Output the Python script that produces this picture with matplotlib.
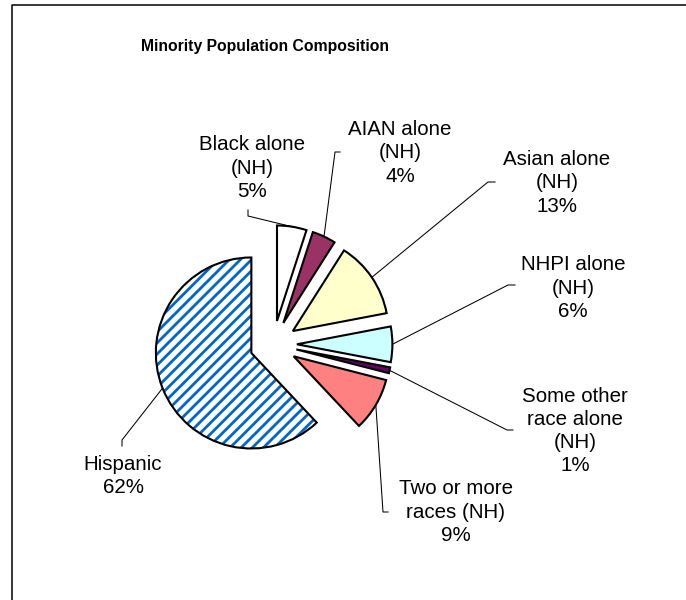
import numpy as np
import matplotlib.pyplot as plt
from matplotlib.patches import Wedge

# Minority population shares (percent), clockwise from 12 o'clock
groups = ['Black alone\n(NH)', 'AIAN alone\n(NH)', 'Asian alone\n(NH)',
          'NHPI alone\n(NH)', 'Some other\nrace alone\n(NH)',
          'Two or more\nraces (NH)', 'Hispanic']
shares = [5, 4, 13, 6, 1, 9, 62]
colors = ['#FFFFFF', '#993366', '#FFFFCC', '#CCFFFF', '#660066', '#FF8080', '#FFFFFF']

W, H = 686, 600
plt.rcParams['font.family'] = ['Liberation Sans', 'DejaVu Sans']
plt.rcParams['hatch.linewidth'] = 2.0

fig = plt.figure(figsize=(W / 100, H / 100), dpi=100)
ax = fig.add_axes([0, 0, 1, 1])

# axes in pixel units, y up; pie explode is an absolute offset here
radius = 95.5
wedges, _ = ax.pie(shares, colors=colors, startangle=90, counterclock=False,
                   explode=[23.6] * len(shares), center=(273.3, H - 344.3),
                   radius=radius, wedgeprops=dict(edgecolor='black', linewidth=1.5))
ax.set_xlim(0, W)
ax.set_ylim(0, H)
ax.set_aspect('equal')
ax.axis('off')

# Hispanic slice: blue diagonal stripes, then a black outline on top
hisp = wedges[-1]
hisp.set_hatch('///')
hisp.set_edgecolor('#0066CC')
hisp.set_linewidth(0)
ax.add_patch(Wedge(hisp.center, hisp.r, hisp.theta1, hisp.theta2,
                   fill=False, edgecolor='black', linewidth=1.5))

# label block centres and leader elbows (pixel coords, y down)
label_pos = [(252, 168), (400, 153), (557, 183), (573, 288),
             (575, 431), (456, 512), (123, 476)]
elbows = [[(248, 210), (248, 216)], [(340, 152), (335, 152)],
          [(495, 182), (488, 182)], [(515, 285), (508, 285)],
          [(513, 430), (507, 430)], [(388, 512), (383, 512)],
          [(122, 446), (122, 440)]]

for w, name, share, (lx, ly), elb in zip(wedges, groups, shares, label_pos, elbows):
    ax.text(lx, H - ly, f'{name}\n{share}%', ha='center', va='center',
            fontsize=14.8, linespacing=1.28, color='black')
    mid = np.deg2rad((w.theta1 + w.theta2) / 2)
    ex = w.center[0] + w.r * np.cos(mid)
    ey = w.center[1] + w.r * np.sin(mid)
    xs = [p[0] for p in elb] + [ex]
    ys = [H - p[1] for p in elb] + [ey]
    ax.plot(xs, ys, color='black', linewidth=0.75)

ax.text(265, H - 47, 'Minority Population Composition', ha='center', va='center',
        fontsize=11.3, fontweight='bold')

# chart area border (left and top edges visible)
ax.plot([12, 12, W + 5], [-5, H - 5, H - 5], color='black', linewidth=1.1, clip_on=False)

fig.savefig('out.png', dpi=100)
